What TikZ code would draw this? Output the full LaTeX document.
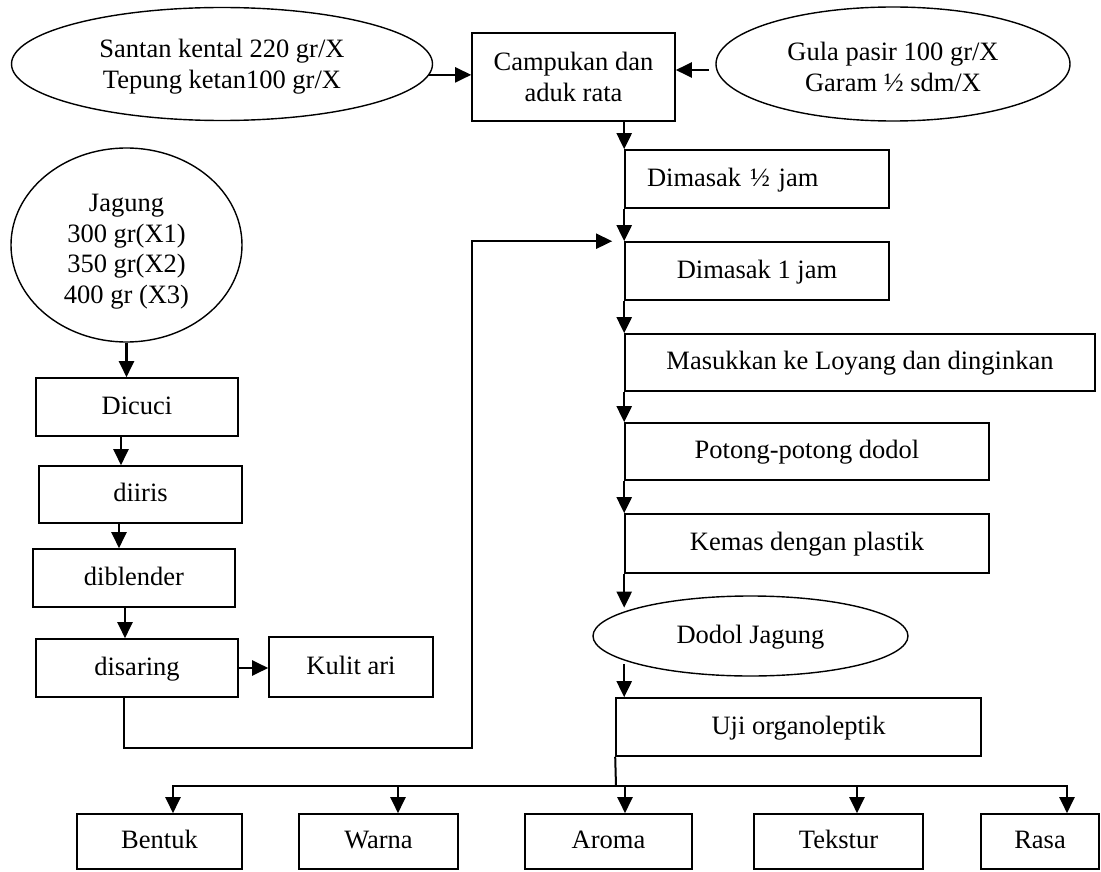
\documentclass[tikz,border=0pt]{standalone}
\usepackage{fontspec}
\setmainfont{Liberation Serif}
\usetikzlibrary{shapes.geometric,arrows.meta,calc}
\newcommand\myfs{\fontsize{26.5}{30.5}\selectfont}
\begin{document}
\begin{tikzpicture}[x=1pt,y=-1pt,
  box/.style={draw, line width=1.6pt, inner sep=0pt, align=center, font=\myfs},
  one/.style={text height=19pt, text depth=5pt},
  ell/.style={draw, ellipse, line width=1.4pt, inner sep=0pt, align=center, font=\myfs},
  arr/.style={-{Triangle[length=16pt,width=15pt]}, line width=2.2pt},
  ln/.style={line width=2pt}]
\useasboundingbox (0,0) rectangle (1101,872);

% top row
\node[ell, minimum width=421pt, minimum height=113pt] (santan) at (222,64) {\rule{0pt}{24pt}Santan kental 220 gr/X\\ Tepung ketan100 gr/X};
\node[box, minimum width=203pt, minimum height=88pt] (campur) at (573.5,77) {Campukan dan\\aduk rata};
\node[ell, minimum width=354pt, minimum height=114pt] (gula) at (893,64) {\rule{0pt}{24pt}Gula pasir 100 gr/X\\Garam ½ sdm/X};

% left column
\node[ell, minimum width=231pt, minimum height=194pt] (jagung) at (126.5,245) {\rule{0pt}{31pt}Jagung\\300 gr(X1)\\350 gr(X2)\\400 gr (X3)};
\node[box, one, minimum width=202pt, minimum height=58pt] (dicuci) at (137,407) {Dicuci};
\node[box, one, minimum width=203pt, minimum height=57pt] (diiris) at (140.5,494.5) {diiris};
\node[box, one, minimum width=202pt, minimum height=58pt] (diblender) at (134,578) {diblender};
\node[box, one, minimum width=202pt, minimum height=58pt] (disaring) at (137,668) {disaring};
\node[box, one, minimum width=164pt, minimum height=60pt] (kulit) at (351,667) {Kulit ari};

% right column
\node[box, one, minimum height=58pt, inner xsep=22pt, text width=220pt, align=left] (d1) at (757,179) {Dimasak ½ jam};
\node[box, one, minimum width=264pt, minimum height=58pt] (d2) at (757,271) {Dimasak 1 jam};
\node[box, one, minimum width=470pt, minimum height=57pt] (masuk) at (860,362.5) {Masukkan ke Loyang dan dinginkan};
\node[box, one, minimum width=364pt, minimum height=57pt] (potong) at (807,451.5) {Potong-potong dodol};
\node[box, one, minimum width=364pt, minimum height=59pt] (kemas) at (807,543.5) {Kemas dengan plastik};
\node[ell, one, minimum width=315pt, minimum height=80pt] (dodol) at (750.5,636) {Dodol Jagung};
\node[box, one, minimum width=365pt, minimum height=58pt] (uji) at (798.5,727) {Uji organoleptik};

% bottom row
\node[box, one, minimum width=165pt, minimum height=55pt] (bentuk) at (159.5,841.5) {Bentuk};
\node[box, one, minimum width=159pt, minimum height=55pt] (warna) at (378.5,841.5) {Warna};
\node[box, one, minimum width=167pt, minimum height=55pt] (aroma) at (608.5,841.5) {Aroma};
\node[box, one, minimum width=169pt, minimum height=55pt] (tekstur) at (838.5,841.5) {Tekstur};
\node[box, one, minimum width=118pt, minimum height=55pt] (rasa) at (1040,841.5) {Rasa};

% top connectors
\draw[arr] (santan.-3.3) -- (santan.-3.3 -| campur.west);
\coordinate (g1) at (709,70);
\draw[arr] (g1) -- (g1 -| campur.east);
\draw[arr] (campur.south -| d1.west) -- (d1.north west);

% right column connectors
\draw[arr] (d1.south west) -- (d2.north west);
\draw[arr] (d2.south west) -- (masuk.north west);
\draw[arr] (masuk.south west) -- (potong.north west);
\draw[arr] (potong.south west) -- (kemas.north west);
\draw[arr] (kemas.south west) -- (dodol.166 -| kemas.south west);
\draw[arr] (dodol.194 -| kemas.south west) -- (uji.north -| kemas.south west);

% left column connectors
\draw[arr] (jagung.south) -- (jagung.south |- dicuci.north);
\draw[arr] ([xshift=-16pt]dicuci.south) -- ([xshift=-16pt]dicuci.south |- diiris.north);
\draw[arr] ([xshift=-21.5pt]diiris.south) -- ([xshift=-21.5pt]diiris.south |- diblender.north);
\draw[arr] ([xshift=-9pt]diblender.south) -- ([xshift=-9pt]diblender.south |- disaring.north);
\draw[arr] (disaring.east) -- (disaring.east -| kulit.west);

% feed line
\coordinate (r1) at (472,748);
\draw[arr, line width=1.8pt] ([xshift=-13pt]disaring.south) |- (r1) |- ([xshift=-12pt]d2.north west);

% bus to evaluation boxes
\coordinate (bus) at (616,786);
\draw[ln] (uji.south west) -- (bus);
\draw[arr] (bus) -| ([xshift=13.5pt]bentuk.north);
\draw[arr] (bus) -| ([xshift=19.5pt]warna.north);
\draw[arr] (bus) -| ([xshift=16.5pt]aroma.north);
\draw[arr] (bus) -| ([xshift=18.5pt]tekstur.north);
\draw[arr] (bus) -| ([xshift=27pt]rasa.north);
\end{tikzpicture}
\end{document}
